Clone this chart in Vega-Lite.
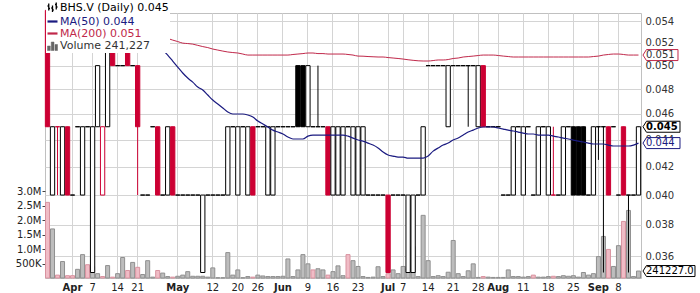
{
"$schema":"https://vega.github.io/schema/vega-lite/v6.json",
"width":596,"height":265,
"autosize":{"type":"none"},
"padding":{"left":45,"top":13,"right":59,"bottom":15},
"background":"white",
"data":{"values":[
{"d":"2014-03-25","o":0.055,"h":0.055,"l":0.045,"c":0.045,"t":"down","v":2620000,"dn":"dn"},
{"d":"2014-03-26","o":0.04,"h":0.045,"l":0.04,"c":0.045,"t":"up","v":1700000,"dn":"up"},
{"d":"2014-03-27","o":0.045,"h":0.045,"l":0.04,"c":0.045,"t":"flatr","v":100000,"dn":"dn"},
{"d":"2014-03-28","o":0.04,"h":0.045,"l":0.04,"c":0.045,"t":"up","v":570000,"dn":"up"},
{"d":"2014-03-31","o":0.045,"h":0.045,"l":0.04,"c":0.04,"t":"down","v":80000,"dn":"dn"},
{"d":"2014-04-01","o":0.04,"h":0.04,"l":0.04,"c":0.04,"t":"flat","v":80000,"dn":"dn"},
{"d":"2014-04-02","o":0.045,"h":0.045,"l":0.045,"c":0.045,"t":"flat","v":300000,"dn":"up"},
{"d":"2014-04-03","o":0.04,"h":0.045,"l":0.04,"c":0.045,"t":"up","v":810000,"dn":"up"},
{"d":"2014-04-04","o":0.045,"h":0.045,"l":0.045,"c":0.045,"t":"flat","v":460000,"dn":"dn"},
{"d":"2014-04-07","o":0.035,"h":0.045,"l":0.035,"c":0.045,"t":"up","v":400000,"dn":"up"},
{"d":"2014-04-08","o":0.045,"h":0.05,"l":0.045,"c":0.05,"t":"up","v":150000,"dn":"up"},
{"d":"2014-04-09","o":0.04,"h":0.045,"l":0.04,"c":0.045,"t":"upr","v":50000,"dn":"dn"},
{"d":"2014-04-10","o":0.045,"h":0.055,"l":0.045,"c":0.055,"t":"up","v":430000,"dn":"up"},
{"d":"2014-04-11","o":0.055,"h":0.055,"l":0.05,"c":0.05,"t":"down","v":30000,"dn":"dn"},
{"d":"2014-04-14","o":0.05,"h":0.05,"l":0.05,"c":0.05,"t":"flat","v":150000,"dn":"up","m200":0.05387},
{"d":"2014-04-15","o":0.05,"h":0.05,"l":0.05,"c":0.05,"t":"flat","v":710000,"dn":"up","m200":0.05372},
{"d":"2014-04-16","o":0.055,"h":0.055,"l":0.05,"c":0.05,"t":"down","v":260000,"dn":"dn","m50":0.0553,"m200":0.05356},
{"d":"2014-04-17","o":0.05,"h":0.05,"l":0.05,"c":0.05,"t":"flat","v":540000,"dn":"up","m50":0.05475,"m200":0.05341},
{"d":"2014-04-21","o":0.05,"h":0.05,"l":0.04,"c":0.045,"t":"down","v":370000,"dn":"dn","m50":0.05423,"m200":0.05326},
{"d":"2014-04-22","o":0.04,"h":0.04,"l":0.04,"c":0.04,"t":"flat","v":120000,"dn":"up","m50":0.05372,"m200":0.0531},
{"d":"2014-04-23","o":0.04,"h":0.04,"l":0.04,"c":0.04,"t":"flat","v":600000,"dn":"up","m50":0.05316,"m200":0.05295},
{"d":"2014-04-24","o":0.045,"h":0.045,"l":0.045,"c":0.045,"t":"flat","v":30000,"dn":"up","m50":0.05253,"m200":0.05282},
{"d":"2014-04-25","o":0.045,"h":0.045,"l":0.04,"c":0.04,"t":"down","v":260000,"dn":"dn","m50":0.05181,"m200":0.05268},
{"d":"2014-04-28","o":0.04,"h":0.04,"l":0.04,"c":0.04,"t":"flat","v":170000,"dn":"up","m50":0.05136,"m200":0.05253},
{"d":"2014-04-29","o":0.04,"h":0.045,"l":0.04,"c":0.045,"t":"up","v":50000,"dn":"up","m50":0.05092,"m200":0.0524},
{"d":"2014-04-30","o":0.045,"h":0.045,"l":0.04,"c":0.04,"t":"down","v":30000,"dn":"dn","m50":0.0504,"m200":0.05225},
{"d":"2014-05-01","o":0.04,"h":0.04,"l":0.04,"c":0.04,"t":"flat","v":60000,"dn":"up","m50":0.04988,"m200":0.05212},
{"d":"2014-05-02","o":0.04,"h":0.04,"l":0.04,"c":0.04,"t":"flat","v":100000,"dn":"up","m50":0.04937,"m200":0.05198},
{"d":"2014-05-05","o":0.04,"h":0.04,"l":0.04,"c":0.04,"t":"flat","v":220000,"dn":"up","m50":0.04894,"m200":0.05194},
{"d":"2014-05-06","o":0.04,"h":0.04,"l":0.04,"c":0.04,"t":"flat","v":60000,"dn":"up","m50":0.0486,"m200":0.05189},
{"d":"2014-05-07","o":0.04,"h":0.04,"l":0.04,"c":0.04,"t":"flat","v":60000,"dn":"up","m50":0.04819,"m200":0.05178},
{"d":"2014-05-08","o":0.035,"h":0.04,"l":0.035,"c":0.04,"t":"up","v":60000,"dn":"up","m50":0.04794,"m200":0.05167},
{"d":"2014-05-09","o":0.04,"h":0.04,"l":0.04,"c":0.04,"t":"flat","v":30000,"dn":"up","m50":0.04753,"m200":0.05158},
{"d":"2014-05-12","o":0.04,"h":0.04,"l":0.04,"c":0.04,"t":"flat","v":350000,"dn":"up","m50":0.04712,"m200":0.05145},
{"d":"2014-05-13","o":0.04,"h":0.04,"l":0.04,"c":0.04,"t":"flat","v":10000,"dn":"up","m50":0.0468,"m200":0.05136},
{"d":"2014-05-14","o":0.04,"h":0.04,"l":0.04,"c":0.04,"t":"flat","v":10000,"dn":"up","m50":0.04648,"m200":0.05127},
{"d":"2014-05-15","o":0.04,"h":0.045,"l":0.04,"c":0.045,"t":"up","v":880000,"dn":"up","m50":0.04616,"m200":0.05119},
{"d":"2014-05-16","o":0.045,"h":0.045,"l":0.045,"c":0.045,"t":"flat","v":100000,"dn":"up","m50":0.046,"m200":0.05114},
{"d":"2014-05-20","o":0.04,"h":0.045,"l":0.04,"c":0.045,"t":"up","v":280000,"dn":"up","m50":0.046,"m200":0.0511},
{"d":"2014-05-21","o":0.045,"h":0.045,"l":0.045,"c":0.045,"t":"flat","v":10000,"dn":"up","m50":0.046,"m200":0.05101},
{"d":"2014-05-22","o":0.04,"h":0.045,"l":0.04,"c":0.045,"t":"up","v":50000,"dn":"up","m50":0.04592,"m200":0.05092},
{"d":"2014-05-23","o":0.045,"h":0.045,"l":0.04,"c":0.04,"t":"down","v":30000,"dn":"dn","m50":0.04576,"m200":0.05092},
{"d":"2014-05-26","o":0.045,"h":0.045,"l":0.045,"c":0.045,"t":"flat","v":100000,"dn":"up","m50":0.04544,"m200":0.05092},
{"d":"2014-05-27","o":0.045,"h":0.045,"l":0.045,"c":0.045,"t":"flat","v":70000,"dn":"up","m50":0.04521,"m200":0.05092},
{"d":"2014-05-28","o":0.04,"h":0.045,"l":0.04,"c":0.045,"t":"up","v":50000,"dn":"up","m50":0.04498,"m200":0.05092},
{"d":"2014-05-29","o":0.04,"h":0.045,"l":0.04,"c":0.045,"t":"up","v":50000,"dn":"up","m50":0.04474,"m200":0.05092},
{"d":"2014-05-30","o":0.045,"h":0.045,"l":0.045,"c":0.045,"t":"flat","v":50000,"dn":"up","m50":0.04459,"m200":0.05092},
{"d":"2014-06-02","o":0.045,"h":0.045,"l":0.045,"c":0.045,"t":"flat","v":60000,"dn":"up","m50":0.04444,"m200":0.05092},
{"d":"2014-06-03","o":0.045,"h":0.045,"l":0.045,"c":0.045,"t":"flat","v":660000,"dn":"up","m50":0.04421,"m200":0.05092},
{"d":"2014-06-04","o":0.045,"h":0.045,"l":0.045,"c":0.045,"t":"flat","v":50000,"dn":"up","m50":0.04406,"m200":0.05097},
{"d":"2014-06-05","o":0.05,"h":0.05,"l":0.045,"c":0.045,"t":"dnb","v":280000,"dn":"up","m50":0.04406,"m200":0.05101},
{"d":"2014-06-06","o":0.05,"h":0.05,"l":0.045,"c":0.045,"t":"dnb","v":810000,"dn":"up","m50":0.04406,"m200":0.05105},
{"d":"2014-06-09","o":0.045,"h":0.05,"l":0.045,"c":0.05,"t":"up","v":490000,"dn":"up","m50":0.04428,"m200":0.0511},
{"d":"2014-06-10","o":0.045,"h":0.045,"l":0.045,"c":0.045,"t":"flat","v":280000,"dn":"dn","m50":0.04436,"m200":0.0511},
{"d":"2014-06-11","o":0.045,"h":0.05,"l":0.045,"c":0.045,"t":"flat","v":320000,"dn":"up","m50":0.04436,"m200":0.05105},
{"d":"2014-06-12","o":0.045,"h":0.045,"l":0.045,"c":0.045,"t":"flat","v":280000,"dn":"up","m50":0.04436,"m200":0.05105},
{"d":"2014-06-13","o":0.045,"h":0.045,"l":0.04,"c":0.04,"t":"down","v":100000,"dn":"dn","m50":0.04436,"m200":0.05101},
{"d":"2014-06-16","o":0.04,"h":0.045,"l":0.04,"c":0.045,"t":"up","v":220000,"dn":"up","m50":0.04436,"m200":0.05101},
{"d":"2014-06-17","o":0.04,"h":0.045,"l":0.04,"c":0.045,"t":"up","v":420000,"dn":"up","m50":0.04436,"m200":0.05101},
{"d":"2014-06-18","o":0.04,"h":0.045,"l":0.04,"c":0.045,"t":"up","v":80000,"dn":"up","m50":0.04436,"m200":0.05101},
{"d":"2014-06-19","o":0.045,"h":0.045,"l":0.045,"c":0.045,"t":"flat","v":810000,"dn":"dn","m50":0.04428,"m200":0.05097},
{"d":"2014-06-20","o":0.04,"h":0.045,"l":0.04,"c":0.045,"t":"up","v":600000,"dn":"up","m50":0.04413,"m200":0.05092},
{"d":"2014-06-23","o":0.04,"h":0.045,"l":0.04,"c":0.045,"t":"up","v":400000,"dn":"up","m50":0.04398,"m200":0.05083},
{"d":"2014-06-24","o":0.04,"h":0.045,"l":0.04,"c":0.045,"t":"up","v":50000,"dn":"up","m50":0.0439,"m200":0.05082},
{"d":"2014-06-25","o":0.04,"h":0.04,"l":0.04,"c":0.04,"t":"flat","v":20000,"dn":"up","m50":0.04375,"m200":0.05079},
{"d":"2014-06-26","o":0.04,"h":0.04,"l":0.04,"c":0.04,"t":"flat","v":30000,"dn":"up","m50":0.0436,"m200":0.05077},
{"d":"2014-06-27","o":0.04,"h":0.04,"l":0.04,"c":0.04,"t":"flat","v":390000,"dn":"up","m50":0.04338,"m200":0.05075},
{"d":"2014-06-30","o":0.04,"h":0.04,"l":0.04,"c":0.04,"t":"flat","v":50000,"dn":"up","m50":0.04308,"m200":0.05075},
{"d":"2014-07-02","o":0.04,"h":0.04,"l":0.035,"c":0.035,"t":"down","v":150000,"dn":"dn","m50":0.04286,"m200":0.0507},
{"d":"2014-07-03","o":0.04,"h":0.04,"l":0.04,"c":0.04,"t":"flat","v":280000,"dn":"up","m50":0.04278,"m200":0.05066},
{"d":"2014-07-04","o":0.04,"h":0.04,"l":0.04,"c":0.04,"t":"flat","v":150000,"dn":"up","m50":0.04271,"m200":0.05062},
{"d":"2014-07-07","o":0.04,"h":0.04,"l":0.04,"c":0.04,"t":"flat","v":400000,"dn":"up","m50":0.04271,"m200":0.05057},
{"d":"2014-07-08","o":0.035,"h":0.04,"l":0.035,"c":0.04,"t":"up","v":320000,"dn":"up","m50":0.04263,"m200":0.05051},
{"d":"2014-07-09","o":0.035,"h":0.04,"l":0.035,"c":0.04,"t":"up","v":1090000,"dn":"up","m50":0.04263,"m200":0.05046},
{"d":"2014-07-10","o":0.04,"h":0.04,"l":0.04,"c":0.04,"t":"flat","v":50000,"dn":"up","m50":0.04263,"m200":0.05042},
{"d":"2014-07-11","o":0.04,"h":0.045,"l":0.04,"c":0.045,"t":"up","v":2170000,"dn":"up","m50":0.04263,"m200":0.0504},
{"d":"2014-07-14","o":0.05,"h":0.05,"l":0.05,"c":0.05,"t":"flat","v":600000,"dn":"up","m50":0.04278,"m200":0.0504},
{"d":"2014-07-15","o":0.05,"h":0.05,"l":0.05,"c":0.05,"t":"flat","v":50000,"dn":"up","m50":0.04315,"m200":0.05044},
{"d":"2014-07-16","o":0.05,"h":0.05,"l":0.05,"c":0.05,"t":"flat","v":80000,"dn":"up","m50":0.04338,"m200":0.05049},
{"d":"2014-07-17","o":0.05,"h":0.05,"l":0.05,"c":0.05,"t":"flat","v":50000,"dn":"up","m50":0.0436,"m200":0.05049},
{"d":"2014-07-18","o":0.045,"h":0.05,"l":0.045,"c":0.05,"t":"up","v":200000,"dn":"up","m50":0.04375,"m200":0.05053},
{"d":"2014-07-21","o":0.05,"h":0.05,"l":0.05,"c":0.05,"t":"flat","v":1300000,"dn":"up","m50":0.04398,"m200":0.05062},
{"d":"2014-07-22","o":0.05,"h":0.05,"l":0.05,"c":0.05,"t":"flat","v":150000,"dn":"up","m50":0.04413,"m200":0.05066},
{"d":"2014-07-23","o":0.05,"h":0.05,"l":0.05,"c":0.05,"t":"flat","v":50000,"dn":"up","m50":0.04436,"m200":0.05075},
{"d":"2014-07-24","o":0.05,"h":0.05,"l":0.045,"c":0.05,"t":"flat","v":250000,"dn":"up","m50":0.04459,"m200":0.05079},
{"d":"2014-07-25","o":0.05,"h":0.05,"l":0.05,"c":0.05,"t":"flat","v":490000,"dn":"up","m50":0.04474,"m200":0.05083},
{"d":"2014-07-28","o":0.045,"h":0.05,"l":0.045,"c":0.05,"t":"up","v":20000,"dn":"up","m50":0.0449,"m200":0.05088},
{"d":"2014-07-29","o":0.05,"h":0.05,"l":0.045,"c":0.045,"t":"down","v":50000,"dn":"dn","m50":0.04498,"m200":0.05092},
{"d":"2014-07-30","o":0.045,"h":0.045,"l":0.045,"c":0.045,"t":"flat","v":30000,"dn":"up","m50":0.04498,"m200":0.05092},
{"d":"2014-07-31","o":0.045,"h":0.045,"l":0.045,"c":0.045,"t":"flat","v":20000,"dn":"up","m50":0.04498,"m200":0.05092},
{"d":"2014-08-01","o":0.045,"h":0.045,"l":0.045,"c":0.045,"t":"flat","v":20000,"dn":"up","m50":0.0449,"m200":0.05088},
{"d":"2014-08-05","o":0.04,"h":0.04,"l":0.04,"c":0.04,"t":"flat","v":20000,"dn":"up","m50":0.04482,"m200":0.05083},
{"d":"2014-08-06","o":0.04,"h":0.04,"l":0.04,"c":0.04,"t":"flat","v":280000,"dn":"up","m50":0.04474,"m200":0.05079},
{"d":"2014-08-07","o":0.04,"h":0.045,"l":0.04,"c":0.045,"t":"up","v":50000,"dn":"up","m50":0.04467,"m200":0.05075},
{"d":"2014-08-08","o":0.045,"h":0.045,"l":0.045,"c":0.045,"t":"flat","v":50000,"dn":"up","m50":0.04459,"m200":0.05075},
{"d":"2014-08-11","o":0.04,"h":0.045,"l":0.04,"c":0.045,"t":"up","v":30000,"dn":"up","m50":0.04451,"m200":0.05075},
{"d":"2014-08-12","o":0.045,"h":0.045,"l":0.045,"c":0.045,"t":"flat","v":50000,"dn":"up","m50":0.04444,"m200":0.05075},
{"d":"2014-08-13","o":0.04,"h":0.04,"l":0.04,"c":0.04,"t":"flat","v":100000,"dn":"dn","m50":0.04444,"m200":0.05075},
{"d":"2014-08-14","o":0.04,"h":0.045,"l":0.04,"c":0.045,"t":"up","v":30000,"dn":"up","m50":0.04436,"m200":0.05075},
{"d":"2014-08-15","o":0.045,"h":0.045,"l":0.045,"c":0.045,"t":"flat","v":30000,"dn":"up","m50":0.04436,"m200":0.05075},
{"d":"2014-08-18","o":0.04,"h":0.045,"l":0.04,"c":0.045,"t":"up","v":50000,"dn":"up","m50":0.04436,"m200":0.05075},
{"d":"2014-08-19","o":0.04,"h":0.045,"l":0.04,"c":0.04,"t":"flatr","v":60000,"dn":"dn","m50":0.04428,"m200":0.05075},
{"d":"2014-08-20","o":0.04,"h":0.04,"l":0.04,"c":0.04,"t":"flat","v":50000,"dn":"up","m50":0.04421,"m200":0.05075},
{"d":"2014-08-21","o":0.04,"h":0.045,"l":0.04,"c":0.045,"t":"up","v":80000,"dn":"up","m50":0.04413,"m200":0.05075},
{"d":"2014-08-22","o":0.045,"h":0.045,"l":0.045,"c":0.045,"t":"flat","v":60000,"dn":"up","m50":0.04406,"m200":0.05075},
{"d":"2014-08-25","o":0.045,"h":0.045,"l":0.04,"c":0.04,"t":"dnb","v":80000,"dn":"up","m50":0.04398,"m200":0.05075},
{"d":"2014-08-26","o":0.045,"h":0.045,"l":0.04,"c":0.04,"t":"dnb","v":30000,"dn":"up","m50":0.0439,"m200":0.05075},
{"d":"2014-08-27","o":0.045,"h":0.045,"l":0.04,"c":0.04,"t":"dnb","v":190000,"dn":"up","m50":0.04383,"m200":0.05075},
{"d":"2014-08-28","o":0.04,"h":0.04,"l":0.04,"c":0.04,"t":"flat","v":100000,"dn":"up","m50":0.04375,"m200":0.05075},
{"d":"2014-08-29","o":0.04,"h":0.045,"l":0.04,"c":0.045,"t":"up","v":150000,"dn":"up","m50":0.04368,"m200":0.05079},
{"d":"2014-09-02","o":0.045,"h":0.045,"l":0.0425,"c":0.045,"t":"flat","v":740000,"dn":"up","m50":0.04368,"m200":0.05083},
{"d":"2014-09-03","o":0.045,"h":0.045,"l":0.035,"c":0.045,"t":"flat","v":1440000,"dn":"up","m50":0.04368,"m200":0.05092},
{"d":"2014-09-04","o":0.045,"h":0.045,"l":0.04,"c":0.04,"t":"down","v":990000,"dn":"dn","m50":0.0436,"m200":0.05097},
{"d":"2014-09-05","o":0.045,"h":0.045,"l":0.045,"c":0.045,"t":"flat","v":400000,"dn":"up","m50":0.04353,"m200":0.05101},
{"d":"2014-09-08","o":0.04,"h":0.04,"l":0.04,"c":0.04,"t":"flat","v":1120000,"dn":"up","m50":0.04353,"m200":0.05101},
{"d":"2014-09-09","o":0.045,"h":0.045,"l":0.04,"c":0.04,"t":"down","v":1960000,"dn":"dn","m50":0.04353,"m200":0.05097},
{"d":"2014-09-10","o":0.04,"h":0.04,"l":0.035,"c":0.04,"t":"flat","v":2340000,"dn":"up","m50":0.04353,"m200":0.05092},
{"d":"2014-09-11","o":0.04,"h":0.04,"l":0.04,"c":0.04,"t":"flat","v":50000,"dn":"up","m50":0.0436,"m200":0.05092},
{"d":"2014-09-12","o":0.04,"h":0.045,"l":0.04,"c":0.045,"t":"up","v":241227,"dn":"up","m50":0.04375,"m200":0.05092}
]},
"layer":[
{"layer":[
{"mark":{"type":"bar","width":{"band":0.8},"strokeWidth":1},
 "encoding":{
  "x":{"field":"d","type":"ordinal","title":null,"scale":{"type":"band","paddingInner":0,"paddingOuter":0},
   "axis":{"values":["2014-04-01","2014-04-07","2014-04-14","2014-04-21","2014-05-01","2014-05-12","2014-05-20","2014-05-26","2014-06-02","2014-06-09","2014-06-16","2014-06-23","2014-07-02","2014-07-07","2014-07-14","2014-07-21","2014-07-28","2014-08-01","2014-08-11","2014-08-18","2014-08-25","2014-09-02","2014-09-08"],
    "labelExpr":"indexof(['2014-04-01','2014-05-01','2014-06-02','2014-07-02','2014-08-01','2014-09-02'], datum.value) >= 0 ? utcFormat(toDate(datum.value), '%b') : utcFormat(toDate(datum.value), '%-d')",
    "labelFontWeight":{"condition":{"test":"indexof(['2014-04-01','2014-05-01','2014-06-02','2014-07-02','2014-08-01','2014-09-02'], datum.value) >= 0","value":"bold"},"value":"normal"},
    "labelAngle":0,"labelOverlap":false,"ticks":false,"domain":false,"grid":true,"gridColor":"#d4d4d4","labelFontSize":10,"labelColor":"#222222","labelPadding":4,"bandPosition":0.5,"labelFont":"DejaVu Sans"}},
  "y":{"field":"v","type":"quantitative","title":null,"scale":{"domain":[0,9180000],"nice":false,"zero":true},
   "axis":{"orient":"left","values":[500000,1000000,1500000,2000000,2500000,3000000],"labelExpr":"datum.value >= 1000000 ? format(datum.value/1000000, '.1f') + 'M' : format(datum.value/1000, 'd') + 'K'","ticks":true,"tickSize":3,"tickColor":"#444444","domain":false,"grid":false,"labelFontSize":10,"labelColor":"#222222","labelPadding":1,"labelFont":"DejaVu Sans"}},
  "fill":{"field":"dn","type":"nominal","scale":{"domain":["up","dn"],"range":["#bdbdbd","#f0bcc6"]},"legend":null},
  "stroke":{"field":"dn","type":"nominal","scale":{"domain":["up","dn"],"range":["#8f8f8f","#d8929f"]},"legend":null}
 }},
{"transform":[{"filter":"datum.d == '2014-09-12'"}],
 "mark":{"type":"point","shape":"M0,0L0.35,-0.55H5.2V0.55H0.35Z","size":400,"filled":true,"fill":"white","stroke":"black","strokeWidth":1,"opacity":1,"xOffset":4.5},
 "encoding":{"x":{"field":"d","type":"ordinal","title":null,"scale":{"type":"band","paddingInner":0,"paddingOuter":0}},"y":{"field":"v","type":"quantitative","title":null}}},
{"transform":[{"filter":"datum.d == '2014-09-12'"}],
 "mark":{"type":"text","align":"left","baseline":"middle","dx":7.5,"fontSize":10,"font":"DejaVu Sans","color":"black"},
 "encoding":{"x":{"field":"d","type":"ordinal","title":null,"scale":{"type":"band","paddingInner":0,"paddingOuter":0}},"y":{"field":"v","type":"quantitative","title":null},"text":{"field":"v","type":"quantitative","format":".1f"}}}
]},
{"layer":[
{"mark":{"type":"rule","strokeWidth":1},
 "encoding":{
  "x":{"field":"d","type":"ordinal","title":null,"scale":{"type":"band","paddingInner":0,"paddingOuter":0}},
  "y":{"field":"l","type":"quantitative","title":null,"scale":{"type":"log","domain":[0.03467,0.05475],"nice":false,"zero":false},
   "axis":{"orient":"right","values":[0.036,0.038,0.04,0.042,0.044,0.046,0.048,0.05,0.052,0.054],"format":".3f","ticks":false,"domain":false,"grid":true,"gridColor":"#d4d4d4","labelFontSize":10,"labelColor":"#333333","labelPadding":4,"labelFont":"DejaVu Sans"}},
  "y2":{"field":"h"},
  "stroke":{"field":"t","type":"nominal","scale":{"domain":["up","down","upr","dnb","flat","flatr"],"range":["#000000","#cc0033","#cc0033","#000000","#000000","#cc0033"]},"legend":null}
 }},
{"mark":{"type":"bar","strokeWidth":1},
 "encoding":{
  "x":{"field":"d","type":"ordinal","title":null,"scale":{"type":"band","paddingInner":0,"paddingOuter":0}},
  "y":{"field":"o","type":"quantitative","title":null},
  "y2":{"field":"c"},
  "size":{"field":"t","type":"nominal","scale":{"domain":["up","down","upr","dnb","flat","flatr"],"range":[4.3,4.3,4.3,5.4,4.3,4.3]},"legend":null},
  "fill":{"field":"t","type":"nominal","scale":{"domain":["up","down","upr","dnb","flat","flatr"],"range":["#ffffff","#cc0033","#ffffff","#000000","#ffffff","#ffffff"]},"legend":null},
  "stroke":{"field":"t","type":"nominal","legend":null}
 }},
{"mark":{"type":"line","strokeWidth":1.2,"interpolate":"monotone"},
 "encoding":{
  "x":{"field":"d","type":"ordinal","title":null,"scale":{"type":"band","paddingInner":0,"paddingOuter":0}},
  "y":{"field":"m50","type":"quantitative","title":null},
  "color":{"datum":"MA(50) 0.044","type":"nominal",
   "scale":{"domain":["BHS.V (Daily) 0.045","MA(50) 0.044","MA(200) 0.051","Volume 241,227"],"range":["#000000","#1a1a80","#c0284a","#666666"]},
   "legend":{"orient":"none","legendX":1,"legendY":-12,"title":null,"labelFont":"DejaVu Sans","labelFontSize":11,"symbolSize":100,"rowPadding":0,"padding":1,"fillColor":"white","labelOffset":2,"symbolStrokeWidth":2,
    "encode":{
     "symbols":{"update":{
      "shape":{"signal":"datum.value === 'Volume 241,227' ? 'M-1,1V0.1H-0.45V1ZM-0.25,1V-0.7H0.3V1ZM0.5,1V-0.2H1V1Z' : datum.value === 'BHS.V (Daily) 0.045' ? 'M-0.75,-0.8V0.6M-1,-0.3H-0.75M-0.75,0.2H-0.5M0,-0.4V0.9M-0.25,0.1H0M0,0.5H0.25M0.75,-1V0.4M0.5,-0.6H0.75M0.75,-0.1H1' : 'M-1,0H1'"},
      "fill":{"signal":"datum.value === 'Volume 241,227' ? '#666666' : 'transparent'"},
      "stroke":{"signal":"datum.value === 'Volume 241,227' ? '#666666' : datum.value === 'BHS.V (Daily) 0.045' ? '#000000' : datum.value === 'MA(50) 0.044' ? '#1a1a80' : '#c0284a'"},
      "strokeWidth":{"signal":"datum.value === 'Volume 241,227' ? 0.5 : datum.value === 'BHS.V (Daily) 0.045' ? 1.3 : 2.2"},
      "opacity":{"value":1}}},
     "labels":{"update":{"fill":{"signal":"datum.value === 'Volume 241,227' ? '#333333' : datum.value === 'BHS.V (Daily) 0.045' ? '#000000' : datum.value === 'MA(50) 0.044' ? '#1a1a80' : '#c0284a'"}}}
    }}}
 }},
{"mark":{"type":"line","strokeWidth":1,"interpolate":"monotone"},
 "encoding":{
  "x":{"field":"d","type":"ordinal","title":null,"scale":{"type":"band","paddingInner":0,"paddingOuter":0}},
  "y":{"field":"m200","type":"quantitative","title":null},
  "color":{"datum":"MA(200) 0.051","type":"nominal"}
 }},
{"transform":[{"filter":"datum.d == '2014-09-12'"}],
 "mark":{"type":"point","shape":"M0,0L0.35,-0.55H3.5V0.55H0.35Z","size":400,"filled":true,"fill":"white","stroke":"#c0284a","strokeWidth":1,"opacity":1,"xOffset":4.5},
 "encoding":{"x":{"field":"d","type":"ordinal","title":null,"scale":{"type":"band","paddingInner":0,"paddingOuter":0}},"y":{"field":"m200","type":"quantitative","title":null}}},
{"transform":[{"filter":"datum.d == '2014-09-12'"}],
 "mark":{"type":"text","align":"left","baseline":"middle","dx":7.5,"fontSize":10,"font":"DejaVu Sans","color":"#333333"},
 "encoding":{"x":{"field":"d","type":"ordinal","title":null,"scale":{"type":"band","paddingInner":0,"paddingOuter":0}},"y":{"field":"m200","type":"quantitative","title":null},"text":{"field":"m200","type":"quantitative","format":".3f"}}},
{"transform":[{"filter":"datum.d == '2014-09-12'"}],
 "mark":{"type":"point","shape":"M0,0L0.35,-0.55H3.7V0.55H0.35Z","size":400,"filled":true,"fill":"white","stroke":"#1a1a80","strokeWidth":1,"opacity":1,"xOffset":4.5},
 "encoding":{"x":{"field":"d","type":"ordinal","title":null,"scale":{"type":"band","paddingInner":0,"paddingOuter":0}},"y":{"field":"m50","type":"quantitative","title":null}}},
{"transform":[{"filter":"datum.d == '2014-09-12'"}],
 "mark":{"type":"text","align":"left","baseline":"middle","dx":7.5,"fontSize":10,"font":"DejaVu Sans","color":"#1a1a80"},
 "encoding":{"x":{"field":"d","type":"ordinal","title":null,"scale":{"type":"band","paddingInner":0,"paddingOuter":0}},"y":{"field":"m50","type":"quantitative","title":null},"text":{"field":"m50","type":"quantitative","format":".3f"}}},
{"transform":[{"filter":"datum.d == '2014-09-12'"}],
 "mark":{"type":"point","shape":"M0,0L0.35,-0.55H3.7V0.55H0.35Z","size":400,"filled":true,"fill":"white","stroke":"#000000","strokeWidth":1,"opacity":1,"xOffset":4.5},
 "encoding":{"x":{"field":"d","type":"ordinal","title":null,"scale":{"type":"band","paddingInner":0,"paddingOuter":0}},"y":{"field":"c","type":"quantitative","title":null}}},
{"transform":[{"filter":"datum.d == '2014-09-12'"}],
 "mark":{"type":"text","align":"left","baseline":"middle","dx":7.5,"fontSize":10,"font":"DejaVu Sans","fontWeight":"bold","color":"#000000"},
 "encoding":{"x":{"field":"d","type":"ordinal","title":null,"scale":{"type":"band","paddingInner":0,"paddingOuter":0}},"y":{"field":"c","type":"quantitative","title":null},"text":{"field":"c","type":"quantitative","format":".3f"}}}
]}
],
"resolve":{"scale":{"y":"independent","fill":"independent","stroke":"independent"},"axis":{"y":"independent"}},
"config":{"view":{"stroke":"#c0c0c0"},"font":"DejaVu Sans"}
}
